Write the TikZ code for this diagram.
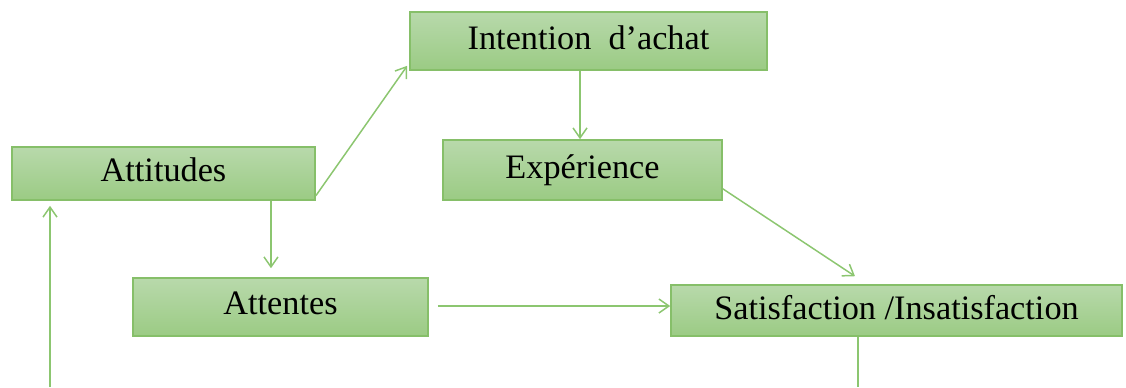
\documentclass[tikz,border=0pt]{standalone}
\usepackage{fontspec}
\setmainfont{Liberation Serif}
\usetikzlibrary{arrows.meta}

\tikzset{
	boite/.style={draw=boxborder, line width=0.9pt, top color=boxtop, bottom color=boxbot,
		inner sep=0pt, text depth=0.14cm, font=\fontsize{19.5}{22}\selectfont},
	fleche/.style={draw=linecol, line width=0.85pt, -{Straight Barb[length=2mm,width=2.8mm]}},
	trait/.style={draw=linecol, line width=0.85pt}
}
\definecolor{boxtop}{HTML}{B8D9AB}
\definecolor{boxbot}{HTML}{9BCB84}
\definecolor{boxborder}{HTML}{86BF69}
\definecolor{linecol}{HTML}{8CC670}

\begin{document}
\begin{tikzpicture}[x=0.02cm,y=-0.02cm]

\useasboundingbox (0,0) rectangle (1126,387);

% les cases
\node[boite, minimum width=357*0.02cm, minimum height=58*0.02cm] (intention) at (588.5,41) {Intention~~d'achat};
\node[boite, minimum width=303*0.02cm, minimum height=53*0.02cm] (attitudes) at (163.5,173.5) {Attitudes};
\node[boite, minimum width=279*0.02cm, minimum height=60*0.02cm] (experience) at (582.5,170) {Expérience};
\node[boite, minimum width=295*0.02cm, minimum height=58*0.02cm] (attentes) at (280.5,307) {Attentes};
\node[boite, minimum width=451*0.02cm, minimum height=51*0.02cm] (satisfaction) at (896.5,310.5) {Satisfaction /Insatisfaction};

\coordinate (entree) at (50,387);
\coordinate (sortie) at (858,387);

% les liens
\draw[fleche] ([yshift=0.1cm]attitudes.south east) -- ([shift={(-0.04cm,0.1cm)}]intention.south west);
\draw[fleche] ([xshift=-0.17cm]intention.south) -- ([xshift=-0.17cm]intention.south |- experience.north);
\draw[fleche] ([xshift=2.15cm]attitudes.south) -- ([xshift=2.15cm,yshift=0.18cm]attitudes.south |- attentes.north);
\draw[fleche] ([yshift=0.24cm]experience.south east) -- ([shift={(-0.83cm,0.16cm)}]satisfaction.north);
\draw[fleche] ([xshift=0.18cm,yshift=0.02cm]attentes.east) -- ([yshift=0.02cm]attentes.east -| satisfaction.west);
\draw[fleche] (entree) -- ([yshift=-0.1cm]entree |- attitudes.south);
\draw[trait] (sortie |- satisfaction.south) -- (sortie);

\end{tikzpicture}
\end{document}
